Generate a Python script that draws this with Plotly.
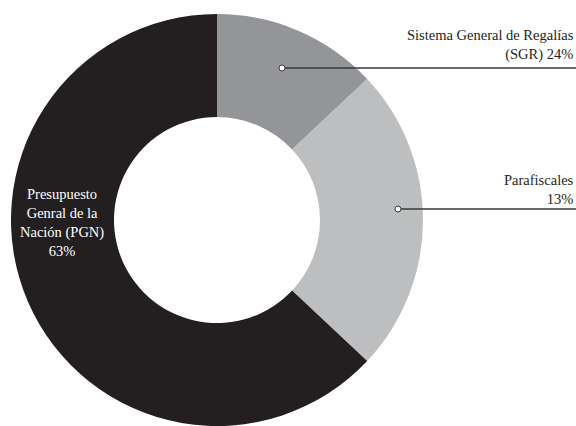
import plotly.graph_objects as go

# Data (as drawn in the reference)
categories = ["Sistema General de Regalías (SGR)", "Parafiscales", "Presupuesto Genral de la Nación (PGN)"]
values = [13, 24, 63]
label_texts = [
    "Sistema General de Regalías<br>(SGR) 24%",
    "Parafiscales<br>13%",
    "Presupuesto<br>Genral de la<br>Nación (PGN)<br>63%",
]
colors = ["#939598", "#bcbec0", "#231f20"]

W, H = 576, 426
FONT = "Liberation Serif"


def px(x):
    return x / W


def py(y):
    return 1 - y / H


fig = go.Figure(
    go.Pie(
        labels=categories,
        values=values,
        sort=False,
        direction="clockwise",
        rotation=0,
        hole=0.5,
        marker=dict(colors=colors, line=dict(width=0)),
        textinfo="none",
        hoverinfo="label+percent",
        domain=dict(x=[px(217 - 206), px(217 + 206)], y=[0, py(14)]),
    )
)

line_color = "#3a3a3a"
shapes = []
# leader lines with dots (SGR, Parafiscales)
for (dx, dy) in [(282, 68), (398, 209)]:
    shapes.append(dict(type="line", xref="paper", yref="paper",
                       x0=px(dx), y0=py(dy), x1=1, y1=py(dy),
                       line=dict(color=line_color, width=1.5)))
    shapes.append(dict(type="circle", xref="paper", yref="paper",
                       xsizemode="pixel", ysizemode="pixel",
                       xanchor=px(dx), yanchor=py(dy),
                       x0=-3, x1=3, y0=-3, y1=3,
                       fillcolor="white", line=dict(color=line_color, width=1)))

annotations = [
    dict(text=label_texts[0], x=1, y=py(44.5), xref="paper", yref="paper",
         xanchor="right", yanchor="middle", align="right", showarrow=False,
         font=dict(family=FONT, size=14.5, color="#231f20")),
    dict(text=label_texts[1], x=1, y=py(189), xref="paper", yref="paper",
         xanchor="right", yanchor="middle", align="right", showarrow=False,
         font=dict(family=FONT, size=14.5, color="#231f20")),
    dict(text=label_texts[2], x=px(62), y=py(222), xref="paper", yref="paper",
         xanchor="center", yanchor="middle", align="center", showarrow=False,
         font=dict(family=FONT, size=14.5, color="white")),
]

fig.update_layout(
    width=W, height=H,
    margin=dict(l=0, r=0, t=0, b=0),
    paper_bgcolor="white", plot_bgcolor="white",
    showlegend=False,
    shapes=shapes,
    annotations=annotations,
)

fig.write_html("out.html")
